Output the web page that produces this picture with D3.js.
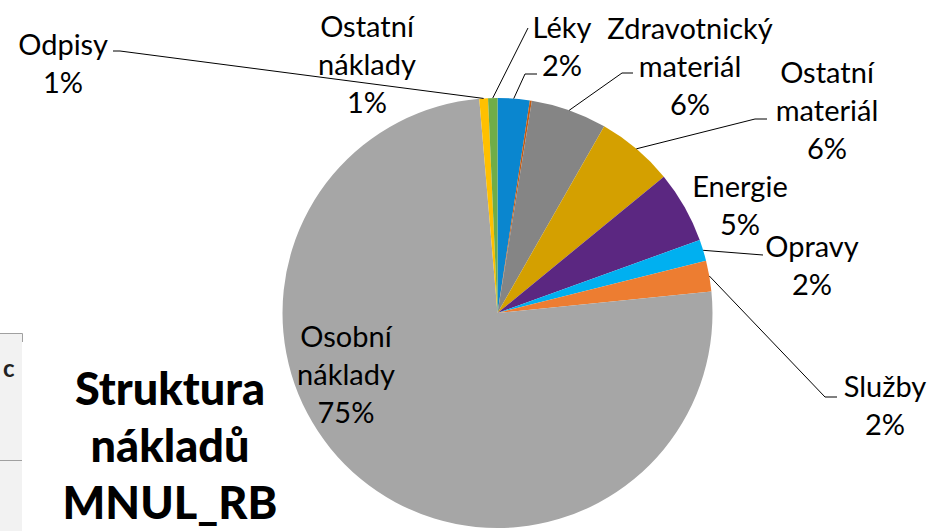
<!DOCTYPE html>
<html>
<head>
<meta charset="utf-8">
<script src="https://cdn.jsdelivr.net/npm/d3@7/dist/d3.min.js"></script>
<style>
  body { margin: 0; background: #fff; }
  svg { display: block; font-family: Lato, "Open Sans", sans-serif; }
</style>
</head>
<body>
<svg id="chart" width="930" height="531"></svg>
<script>
// data (percent of total costs), in slice order from 12 o'clock clockwise
const categories = ["Léky", "", "Zdravotnický materiál", "Ostatní materiál", "Energie", "Opravy", "Služby", "Osobní náklady", "Odpisy", "Ostatní náklady"];
const values = [2.4, 0.15, 5.7, 5.8, 5.4, 1.6, 2.3, 75.1, 0.65, 0.7];
const titleLines = ["Struktura", "nákladů", "MNUL_RB"];

// styles
const palette = ["#0a86cf", "#c55a11", "#858585", "#d4a000", "#5b2781", "#00b0f0", "#ed7d31", "#a6a6a6", "#ffc000", "#70ad47"];

// label layout: centre x, first baseline, leader line points (after the slice edge point)
const labelLayout = [
  {x: 562, y: 38, leader: [[525, 74], [537, 74]]},
  null,
  {x: 690, y: 39, leader: [[622, 73], [633, 73]]},
  {x: 827, y: 83, leader: [[755, 119], [767, 119]]},
  {x: 740, y: 197, leader: null},
  {x: 812, y: 257, leader: [[763, 255]]},
  {x: 885, y: 397, leader: [[825, 397], [837, 397]]},
  {x: 346, y: 347, leader: null},
  {x: 63, y: 55, leader: [[120, 51], [113, 51]]},
  {x: 367, y: 37, leader: [[528, 28]]}
];

const cx = 497.5, cy = 313, radius = 215;
const fontSize = 29, lineGap = 38;

const svg = d3.select("#chart");

// partial box on the left edge
svg.append("rect")
  .attr("x", -1).attr("y", 333).attr("width", 23).attr("height", 200)
  .attr("fill", "#f2f2f2");
svg.append("path")
  .attr("d", "M0,333.5H22.5V342 M0,460.5H22")
  .attr("fill", "none").attr("stroke", "#a0a0a0").attr("stroke-width", 1);
svg.append("text")
  .attr("x", 3).attr("y", 377)
  .style("font-size", "24px").style("font-weight", "bold").attr("fill", "#222")
  .text("c");

const total = d3.sum(values);
const pie = d3.pie().sort(null).value(d => d)(values);
const arc = d3.arc().innerRadius(0).outerRadius(radius);

const g = svg.append("g").attr("transform", `translate(${cx},${cy})`);

g.selectAll("path.slice")
  .data(pie)
  .enter()
  .append("path")
  .attr("class", "slice")
  .attr("d", arc)
  .attr("fill", (d, i) => palette[i]);

// leader lines
pie.forEach((d, i) => {
  const lay = labelLayout[i];
  if (!lay || !lay.leader) return;
  const mid = (d.startAngle + d.endAngle) / 2;
  const start = [cx + radius * Math.sin(mid), cy - radius * Math.cos(mid)];
  svg.append("path")
    .attr("d", d3.line()([start].concat(lay.leader)))
    .attr("fill", "none")
    .attr("stroke", "#000")
    .attr("stroke-width", 1);
});

// labels
pie.forEach((d, i) => {
  const lay = labelLayout[i];
  if (!lay) return;
  const lines = categories[i].split(" ").concat([Math.round(values[i] / total * 100) + "%"]);
  const t = svg.append("text")
    .attr("text-anchor", "middle")
    .style("font-size", fontSize + "px")
    .attr("fill", "#000");
  lines.forEach((line, k) => {
    t.append("tspan").attr("x", lay.x).attr("y", lay.y + k * lineGap).text(line);
  });
});

// title
const title = svg.append("text")
  .attr("text-anchor", "middle")
  .style("font-size", "45px")
  .style("font-weight", "900")
  .attr("fill", "#000");
titleLines.forEach((line, k) => {
  title.append("tspan").attr("x", 170).attr("y", 405 + k * 57).text(line);
});
</script>
</body>
</html>
